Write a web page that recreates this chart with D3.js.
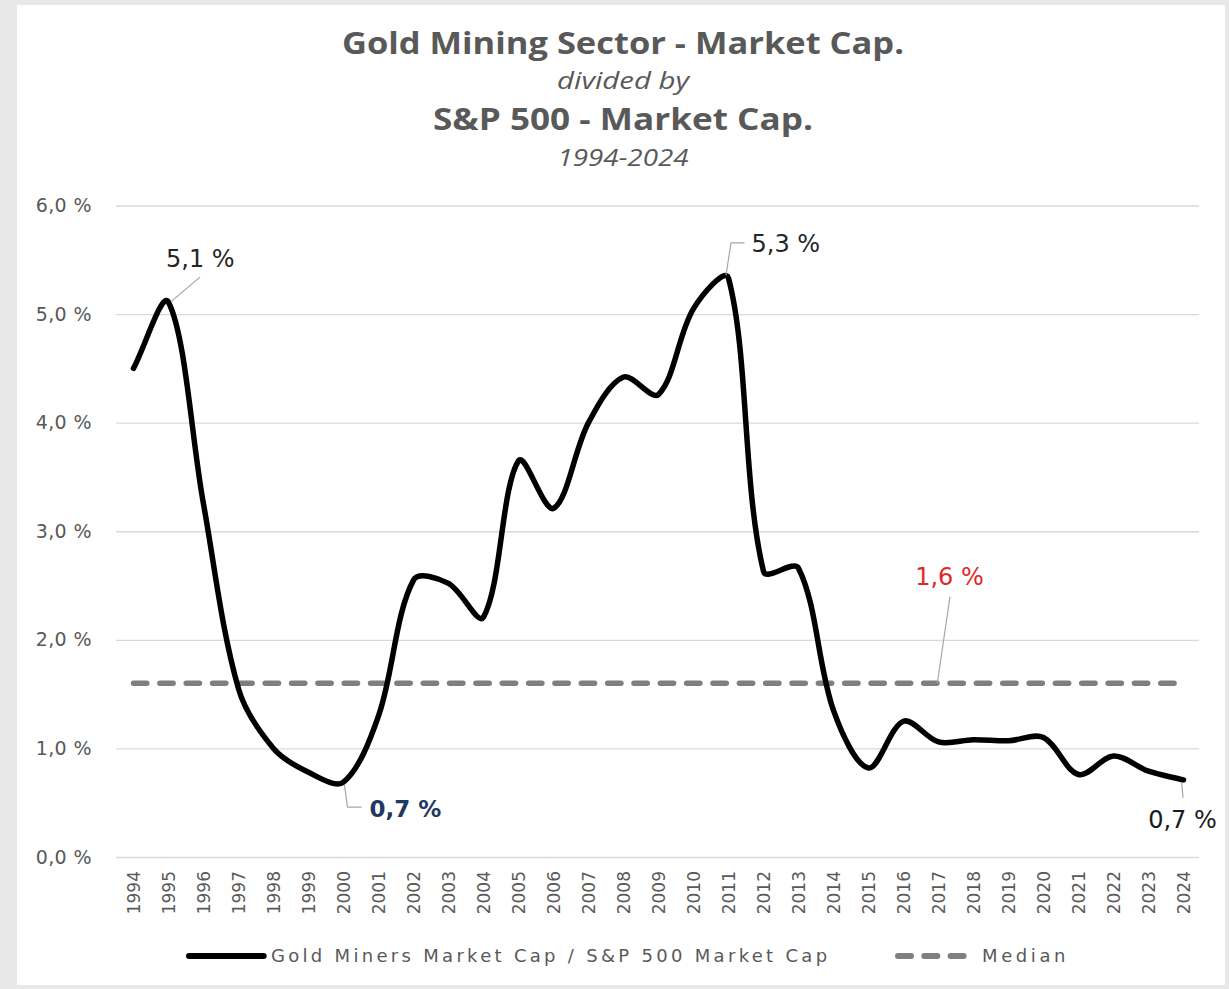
<!DOCTYPE html>
<html>
<head>
<meta charset="utf-8">
<script src="https://cdn.jsdelivr.net/npm/d3@7/dist/d3.min.js"></script>
<style>
  html, body { margin: 0; padding: 0; background: #e8e8e8; }
  svg { display: block; }
</style>
</head>
<body>
<svg id="chart" width="1229" height="989"></svg>
<script>
// --- data ---
const years = [1994, 1995, 1996, 1997, 1998, 1999, 2000, 2001, 2002, 2003, 2004,
    2005, 2006, 2007, 2008, 2009, 2010, 2011, 2012, 2013, 2014, 2015, 2016,
    2017, 2018, 2019, 2020, 2021, 2022, 2023, 2024];
const ratio = [4.50, 5.11, 3.25, 1.55, 1.00, 0.78, 0.69, 1.30, 2.55, 2.52, 2.21,
    3.65, 3.21, 4.00, 4.42, 4.26, 5.05, 5.33, 2.63, 2.66, 1.35, 0.82, 1.25,
    1.06, 1.08, 1.07, 1.10, 0.76, 0.93, 0.79, 0.71];
const medianValue = 1.6;
const yTicks = [0, 1, 2, 3, 4, 5, 6];
const titleLines = ['Gold Mining Sector - Market Cap.', 'divided by', 'S&P 500 - Market Cap.', '1994-2024'];
const legendLabels = ['Gold Miners Market Cap / S&P 500 Market Cap', 'Median'];

// --- layout ---
const PLOT_LEFT = 116, PLOT_RIGHT = 1201, PLOT_TOP = 205.5, PLOT_BOTTOM = 857;
const GRID = '#d9d9d9';
const TEXT_GRAY = '#595959';
const LEADER = '#a6a6a6';
const TICK_FONT = '"DejaVu Sans", Verdana, sans-serif';
const TITLE_FONT = '"Open Sans", sans-serif';

const fmtPct = v => d3.format('.1f')(v).replace('.', ',') + ' %';

// spreadsheet-style smoothing: bezier arms scaled by neighbouring segment lengths
function smoothCurve(context) {
    let pts;
    const dist = (a, b) => Math.hypot(b[0] - a[0], b[1] - a[1]);
    return {
        areaStart() {}, areaEnd() {},
        lineStart() { pts = []; },
        point(px, py) { pts.push([+px, +py]); },
        lineEnd() {
            const n = pts.length;
            if (!n) return;
            context.moveTo(pts[0][0], pts[0][1]);
            for (let i = 0; i < n - 1; i++) {
                const p0 = pts[Math.max(i - 1, 0)], p1 = pts[i];
                const p2 = pts[i + 1], p3 = pts[Math.min(i + 2, n - 1)];
                const d01 = dist(p0, p1), d12 = dist(p1, p2), d23 = dist(p2, p3);
                const f1 = d12 / (d01 + d12) / 3;
                const f2 = d12 / (d12 + d23) / 3;
                context.bezierCurveTo(
                    p1[0] + (p2[0] - p0[0]) * f1, p1[1] + (p2[1] - p0[1]) * f1,
                    p2[0] - (p3[0] - p1[0]) * f2, p2[1] - (p3[1] - p1[1]) * f2,
                    p2[0], p2[1]);
            }
        }
    };
}

const svg = d3.select('#chart');

// white chart card on grey page
svg.append('rect')
    .attr('x', 17).attr('y', 5)
    .attr('width', 1208).attr('height', 980)
    .attr('fill', '#ffffff');

const x = d3.scalePoint()
    .domain(years)
    .range([PLOT_LEFT, PLOT_RIGHT])
    .padding(0.5);

const y = d3.scaleLinear()
    .domain([0, 6])
    .range([PLOT_BOTTOM, PLOT_TOP]);

// --- titles ---
const titleStyles = [
    { size: 31, weight: 700, style: 'normal', y: 54, len: 562 },
    { size: 24, weight: 400, style: 'italic', y: 89, len: 132 },
    { size: 31, weight: 700, style: 'normal', y: 130, len: 380 },
    { size: 24, weight: 400, style: 'italic', y: 166, len: 131 },
];
titleLines.forEach((t, i) => {
    const s = titleStyles[i];
    svg.append('text')
        .attr('x', 623)
        .attr('y', s.y)
        .attr('text-anchor', 'middle')
        .attr('font-family', TITLE_FONT)
        .attr('font-size', s.size)
        .attr('font-weight', s.weight)
        .attr('font-style', s.style)
        .attr('textLength', s.len)
        .attr('lengthAdjust', 'spacingAndGlyphs')
        .attr('fill', TEXT_GRAY)
        .text(t);
});

// --- y axis (gridlines + labels) ---
const yAxis = svg.append('g')
    .attr('transform', `translate(${PLOT_LEFT},0)`)
    .call(d3.axisLeft(y)
        .tickValues(yTicks)
        .tickSize(-(PLOT_RIGHT - 2 - PLOT_LEFT))
        .tickPadding(PLOT_LEFT - 92)
        .tickFormat(fmtPct));
yAxis.select('.domain').remove();
yAxis.selectAll('.tick line')
    .attr('stroke', GRID)
    .attr('stroke-width', 1.4);
yAxis.selectAll('.tick text')
    .attr('font-family', TICK_FONT)
    .attr('font-size', 19)
    .attr('letter-spacing', 0.4)
    .attr('fill', TEXT_GRAY);

// --- x axis labels ---
const xAxis = svg.append('g')
    .attr('transform', `translate(0,${PLOT_BOTTOM})`)
    .call(d3.axisBottom(x).tickSize(0).tickPadding(0));
xAxis.select('.domain').remove();
xAxis.selectAll('.tick text')
    .attr('transform', 'rotate(-90)')
    .attr('x', -14)
    .attr('y', 0)
    .attr('dy', '0.36em')
    .attr('text-anchor', 'end')
    .attr('font-family', TICK_FONT)
    .attr('font-size', 17)
    .attr('fill', TEXT_GRAY);

// --- median dashed line ---
svg.append('line')
    .attr('x1', x(years[0]))
    .attr('x2', x(years[years.length - 1]))
    .attr('y1', y(medianValue))
    .attr('y2', y(medianValue))
    .attr('stroke', '#7f7f7f')
    .attr('stroke-width', 5.5)
    .attr('stroke-linecap', 'round')
    .attr('stroke-dasharray', '13.3,13.04');

// --- main smoothed line ---
const line = d3.line()
    .x((d, i) => x(years[i]))
    .y(d => y(d))
    .curve(smoothCurve);

svg.append('path')
    .datum(ratio)
    .attr('d', line)
    .attr('fill', 'none')
    .attr('stroke', '#000000')
    .attr('stroke-width', 5.5)
    .attr('stroke-linejoin', 'round')
    .attr('stroke-linecap', 'round');

// --- callouts ---
const valueAt = yr => ratio[years.indexOf(yr)];

function leader(points) {
    svg.append('polyline')
        .attr('points', points.map(p => p.join(',')).join(' '))
        .attr('fill', 'none')
        .attr('stroke', LEADER)
        .attr('stroke-width', 1.2);
}

function label(tx, ty, text, opts) {
    svg.append('text')
        .attr('x', tx)
        .attr('y', ty)
        .attr('text-anchor', opts.anchor || 'start')
        .attr('font-family', TICK_FONT)
        .attr('font-size', opts.size || 24)
        .attr('font-weight', opts.weight || 400)
        .attr('fill', opts.color)
        .text(text);
}

// 1995 peak
{
    const px = x(1995), py = y(valueAt(1995));
    leader([[px + 3, py - 1], [px + 31.5, py - 25]]);
    label(px - 2.5, py - 35.5, fmtPct(valueAt(1995)), { color: '#262626' });
}
// 2000 low
{
    const px = x(2000), py = y(valueAt(2000));
    leader([[px + 1, py + 3], [px + 4, py + 25], [px + 18, py + 25]]);
    label(px + 26, py + 35, fmtPct(valueAt(2000)), { color: '#1f3864', weight: 700, size: 23 });
}
// 2011 peak
{
    const px = x(2011), py = y(valueAt(2011));
    leader([[px - 2.5, py - 3], [px + 2.5, py - 35.3], [px + 16, py - 35.3]]);
    label(px + 23, py - 26.3, fmtPct(valueAt(2011)), { color: '#262626' });
}
// 2024 latest
{
    const px = x(2024), py = y(valueAt(2024));
    leader([[px - 1.8, py + 3], [px - 0.5, py + 18]]);
    label(px - 1, py + 48, fmtPct(valueAt(2024)), { color: '#1a1a1a', anchor: 'middle' });
}
// median label at 2017
{
    const px = x(2017), py = y(medianValue);
    leader([[px - 1.2, py], [px + 11.5, py - 86.7]]);
    label(px + 11, py - 98.7, fmtPct(medianValue), { color: '#e0282b', anchor: 'middle' });
}

// --- legend ---
const legend = svg.append('g');
legend.append('line')
    .attr('x1', 189).attr('x2', 263.7)
    .attr('y1', 956).attr('y2', 956)
    .attr('stroke', '#000000')
    .attr('stroke-width', 6)
    .attr('stroke-linecap', 'round');
legend.append('text')
    .attr('x', 271).attr('y', 962)
    .attr('font-family', TICK_FONT)
    .attr('font-size', 18)
    .attr('letter-spacing', 3.3)
    .attr('fill', TEXT_GRAY)
    .text(legendLabels[0]);
legend.append('line')
    .attr('x1', 898).attr('x2', 964)
    .attr('y1', 956).attr('y2', 956)
    .attr('stroke', '#7f7f7f')
    .attr('stroke-width', 6)
    .attr('stroke-linecap', 'round')
    .attr('stroke-dasharray', '13,13.3');
legend.append('text')
    .attr('x', 982).attr('y', 962)
    .attr('font-family', TICK_FONT)
    .attr('font-size', 18)
    .attr('letter-spacing', 3.6)
    .attr('fill', TEXT_GRAY)
    .text(legendLabels[1]);
</script>
</body>
</html>
